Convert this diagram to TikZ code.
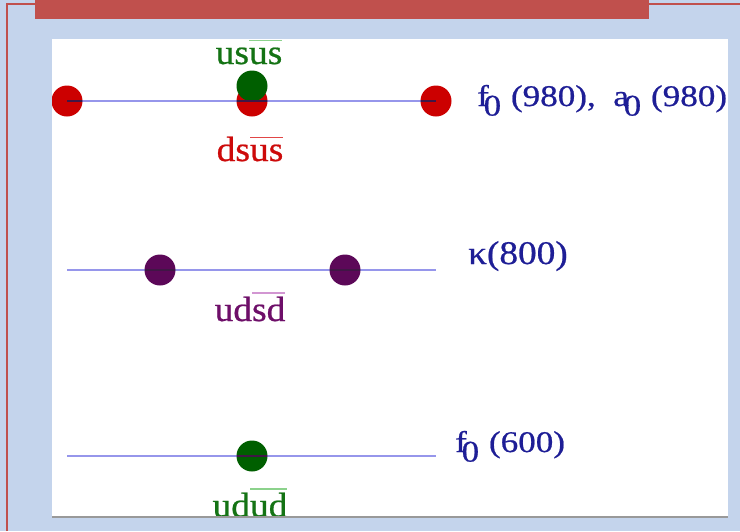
\documentclass[tikz,border=0pt]{standalone}
\usepackage{fontspec}
\setmainfont{Liberation Serif}
\usepackage{graphicx}
\definecolor{bgblue}{RGB}{196,212,236}
\definecolor{frame}{RGB}{192,80,77}
\definecolor{lineblue}{RGB}{150,150,235}
\definecolor{linedark}{RGB}{50,0,40}
\definecolor{dotred}{RGB}{204,0,0}
\definecolor{dotgreen}{RGB}{0,95,0}
\definecolor{dotpurple}{RGB}{92,8,88}
\definecolor{txtgreen}{RGB}{20,115,20}
\definecolor{txtred}{RGB}{205,10,10}
\definecolor{txtpurple}{RGB}{110,15,105}
\definecolor{txtblue}{RGB}{30,30,150}
\definecolor{ovgreen}{RGB}{140,210,140}
\definecolor{ovred}{RGB}{225,70,70}
\definecolor{ovpurple}{RGB}{210,150,210}
\newsavebox\ovbox
\newcommand\ovl[3][0.65em]{\sbox\ovbox{#3}\rlap{\textcolor{#2}{\rule[#1]{\wd\ovbox}{0.05em}}}\usebox\ovbox}
\newcommand\subz{\kern-0.15em\raisebox{-0.32em}{0}\kern0.28em}
\tikzset{
  dot/.style={circle, inner sep=0pt, minimum size=31pt},
  quark/.style={anchor=base, inner sep=0pt, font=\fontsize{35}{40}\selectfont\addfontfeatures{FakeBold=0.6}},
  meson/.style={anchor=base west, inner sep=0pt, text=txtblue, font=\fontsize{30}{34}\selectfont\addfontfeatures{FakeBold=0.6}},
  level/.style={draw=lineblue, line width=2.5pt},
  levdark/.style={draw=linedark, line width=2.5pt, opacity=0.85},
}
\begin{document}
\begin{tikzpicture}[x=1pt,y=-1pt]
\useasboundingbox (0,0) rectangle (740,531);
\fill[bgblue] (0,0) rectangle (740,531);
\draw[frame, line width=2pt] (7,531) -- (7,4) -- (740,4);
\fill[frame] (35,0) rectangle (649,19);
\fill[white] (52,39) rectangle (728,517);
\begin{scope}
\clip (52,39) rectangle (728,517);
% row 1
\node[dot, fill=dotred] (r1a) at (67,101) {};
\node[dot, fill=dotred] (r1b) at (252,101) {};
\node[dot, fill=dotred] (r1c) at (436,101) {};
\node[dot, fill=dotgreen] (g1) at (252,86) {};
\draw[level] (r1a.center) -- (r1c.center);
\begin{scope}
\clip (r1a.center) circle (15.5pt) (r1b.center) circle (15.5pt) (r1c.center) circle (15.5pt) (g1.center) circle (15.5pt);
\draw[levdark] (r1a.center) -- (r1c.center);
\end{scope}
\node[quark, text=txtgreen] (usus) at (249,64) {\scalebox{1.07}[1]{us\ovl{ovgreen}{us}}};
\node[quark, text=txtred] (dsus) at (250,161) {\scalebox{1.07}[1]{ds\ovl{ovred}{us}}};
\node[meson] (m1) at (477,106) {\scalebox{1.17}[1]{f\subz(980),\hspace{0.5em}a\subz(980)}};
% row 2
\coordinate (l2s) at (67,270);
\coordinate (l2e) at (436,270);
\node[dot, fill=dotpurple] (p2a) at (160,270) {};
\node[dot, fill=dotpurple] (p2b) at (345,270) {};
\draw[level] (l2s) -- (l2e);
\begin{scope}
\clip (p2a.center) circle (15.5pt) (p2b.center) circle (15.5pt);
\draw[levdark] (l2s) -- (l2e);
\end{scope}
\node[quark, text=txtpurple] (udsd) at (250,321) {\scalebox{1.07}[1]{ud\ovl[0.78em]{ovpurple}{sd}}};
\node[meson, font=\fontsize{33}{38}\selectfont\addfontfeatures{FakeBold=0.6}] (m2) at (468,264) {\scalebox{1.13}[1]{κ(800)}};
% row 3
\coordinate (l3s) at (67,456);
\coordinate (l3e) at (436,456);
\node[dot, fill=dotgreen] (g3) at (252,456) {};
\draw[level] (l3s) -- (l3e);
\begin{scope}
\clip (g3.center) circle (15.5pt);
\draw[levdark] (l3s) -- (l3e);
\end{scope}
\node[quark, text=txtgreen] (udud) at (250,517) {\scalebox{1.07}[1]{ud\ovl[0.78em]{ovgreen}{ud}}};
\node[meson] (m3) at (455,452) {\scalebox{1.17}[1]{f\subz(600)}};
\end{scope}
\draw[gray!80, line width=2pt] (52,517) -- (728,517);
\end{tikzpicture}
\end{document}
